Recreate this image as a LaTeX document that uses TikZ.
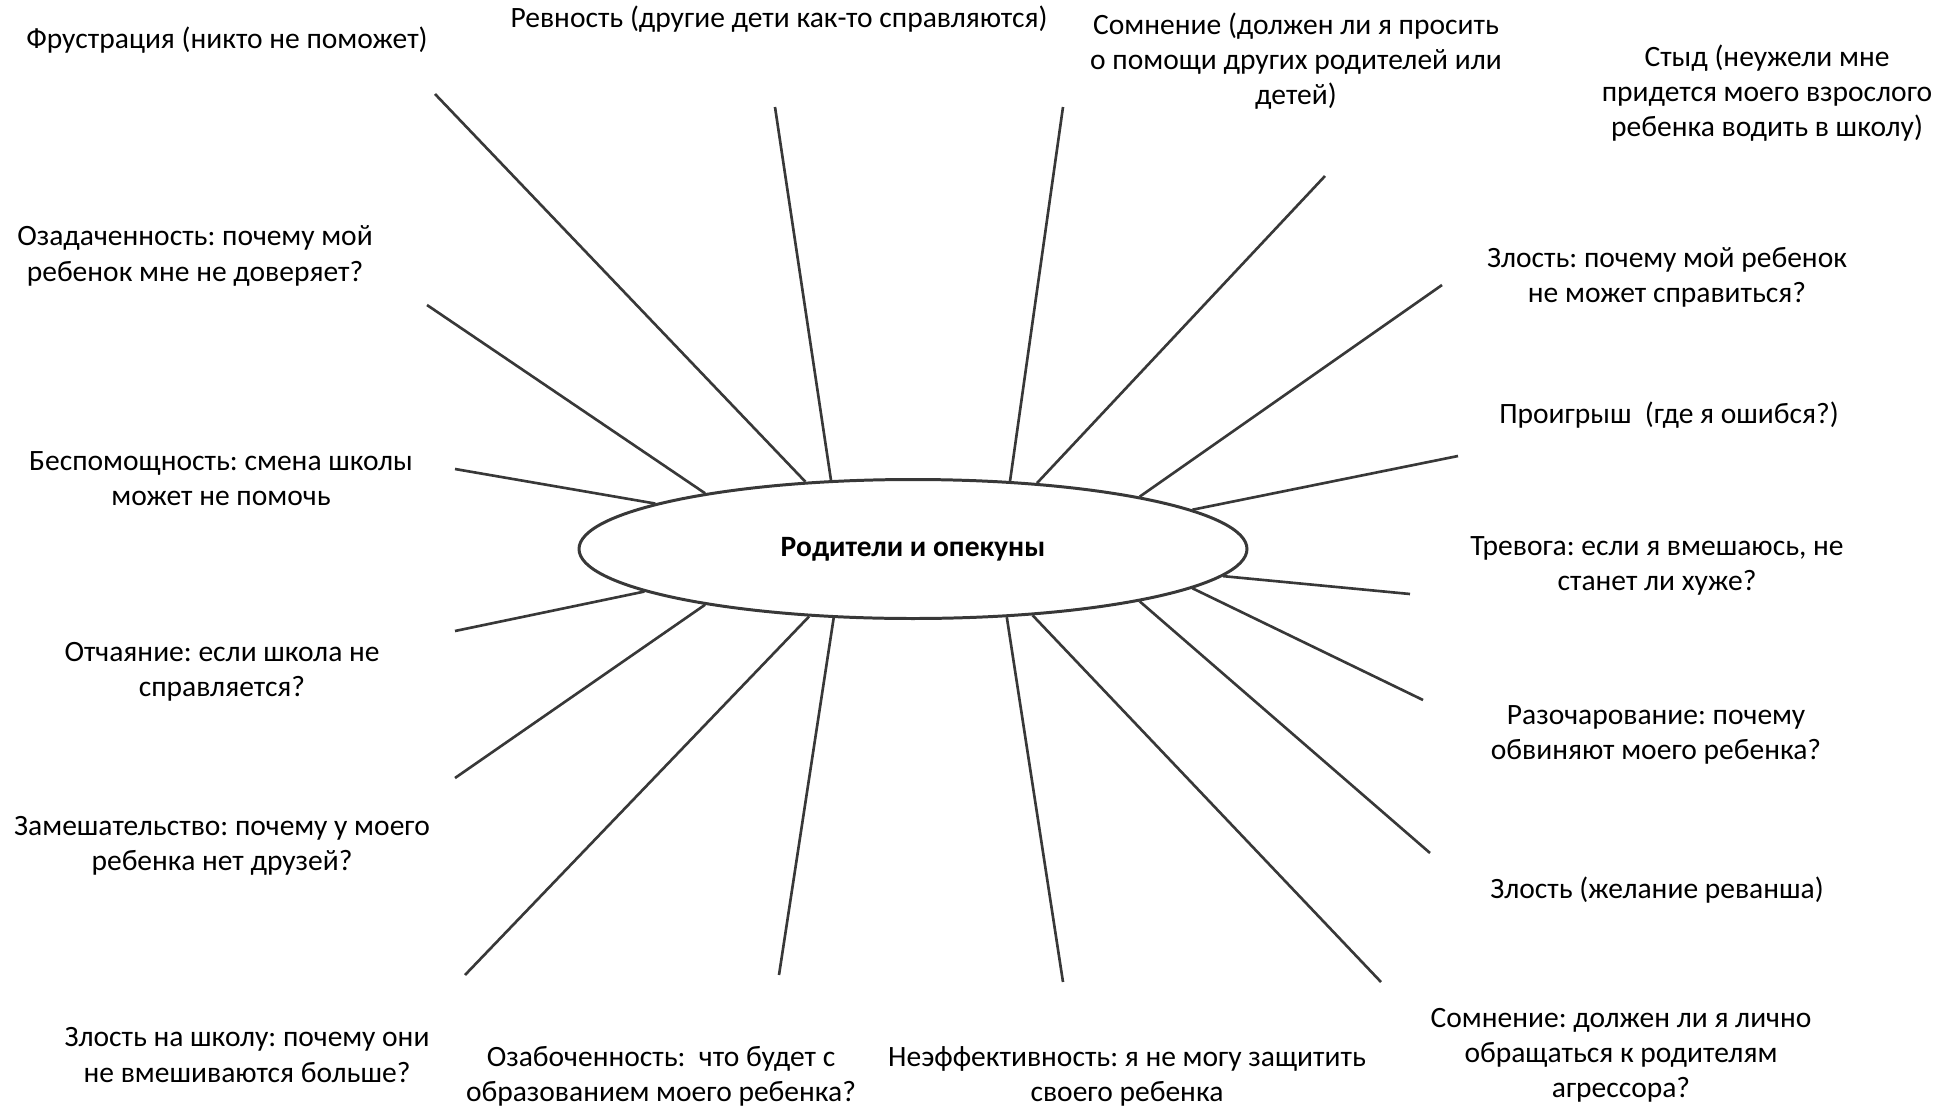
\documentclass[tikz,border=0pt]{standalone}
\usepackage{fontspec}
\setmainfont{Carlito}
\frenchspacing
\usetikzlibrary{shapes.geometric}
\begin{document}
\begin{tikzpicture}[x=0.1mm,y=-0.1mm,
  lbl/.style={font=\fontsize{8.4pt}{10pt}\selectfont, align=center, inner sep=0pt},
  ray/.style={draw=black!78, line width=0.75pt},
  hub/.style={ellipse, draw=black!78, line width=0.85pt, minimum width=66.8mm, minimum height=13.9mm, inner sep=0pt, font=\fontsize{8.4pt}{10pt}\selectfont\bfseries}]
\useasboundingbox (0,0) rectangle (1949,1107);
\node[hub] (c) at (913,549) {Родители и опекуны};
% free ends
\coordinate (o1) at (435,94);
\coordinate (o2) at (427,305);
\coordinate (o3) at (455,469);
\coordinate (o4) at (775,107);
\coordinate (o5) at (1063,107);
\coordinate (o6) at (1325,176);
\coordinate (o7) at (1442,285);
\coordinate (o8) at (1458,456);
\coordinate (o9) at (1410,594);
\coordinate (o10) at (455,631);
\coordinate (o11) at (455,778);
\coordinate (o12) at (465,975);
\coordinate (o13) at (779,975);
\coordinate (o14) at (1063,982);
\coordinate (o15) at (1381,982);
\coordinate (o16) at (1430,853);
\coordinate (o17) at (1423,700);
% rays
\draw[ray] (c.148.5) -- (o1);
\draw[ray] (c.165.3) -- (o2);
\draw[ray] (c.170.9) -- (o3);
\draw[ray] (c.140.8) -- (o4);
\draw[ray] (c.35.2) -- (o5);
\draw[ray] (c.28.4) -- (o6);
\draw[ray] (c.13.66) -- (o7);
\draw[ray] (c.8.7) -- (o8);
\draw[ray] (c.-5.87) -- (o9);
\draw[ray] (c.189.6) -- (o10);
\draw[ray] (c.195.3) -- (o11);
\draw[ray] (c.213.0) -- (o12);
\draw[ray] (c.221.2) -- (o13);
\draw[ray] (c.324.5) -- (o14);
\draw[ray] (c.331.6) -- (o15);
\draw[ray] (c.347.3) -- (o16);
\draw[ray] (c.352.0) -- (o17);
% labels
\node[lbl] (t1) at (227,40) {Фрустрация (никто не поможет)};
\node[lbl] (t2) at (779,19) {Ревность (другие дети как-то справляются)};
\node[lbl] (t3) at (1296,61) {Сомнение (должен ли я просить\\о помощи других родителей или\\детей)};
\node[lbl] (t4) at (1767,93) {Стыд (неужели мне\\придется моего взрослого\\ребенка водить в школу)};
\node[lbl] (t5) at (195,256) {Озадаченность: почему мой\\ребенок мне не доверяет?};
\node[lbl] (t6) at (1667,277) {Злость: почему мой ребенок\\не может справиться?};
\node[lbl] (t7) at (221,479) {Беспомощность: смена школы\\может не помочь};
\node[lbl] (t8) at (1669,415) {Проигрыш\ \ (где я ошибся?)};
\node[lbl] (t9) at (1657,566) {Тревога: если я вмешаюсь, не\\станет ли хуже?};
\node[lbl] (t10) at (222,672) {Отчаяние: если школа не\\справляется?};
\node[lbl] (t11) at (1656,735) {Разочарование: почему\\обвиняют моего ребенка?};
\node[lbl] (t12) at (222,846) {Замешательство: почему у моего\\ребенка нет друзей?};
\node[lbl] (t13) at (1657,890) {Злость (желание реванша)};
\node[lbl] (t14) at (247,1055) {Злость на школу: почему они\\не вмешиваются больше?};
\node[lbl] (t15) at (661,1076) {Озабоченность:\ \ что будет с\\образованием моего ребенка?};
\node[lbl] (t16) at (1127,1076) {Неэффективность: я не могу защитить\\своего ребенка};
\node[lbl] (t17) at (1621,1055) {Сомнение: должен ли я лично\\обращаться к родителям\\агрессора?};
\end{tikzpicture}
\end{document}
